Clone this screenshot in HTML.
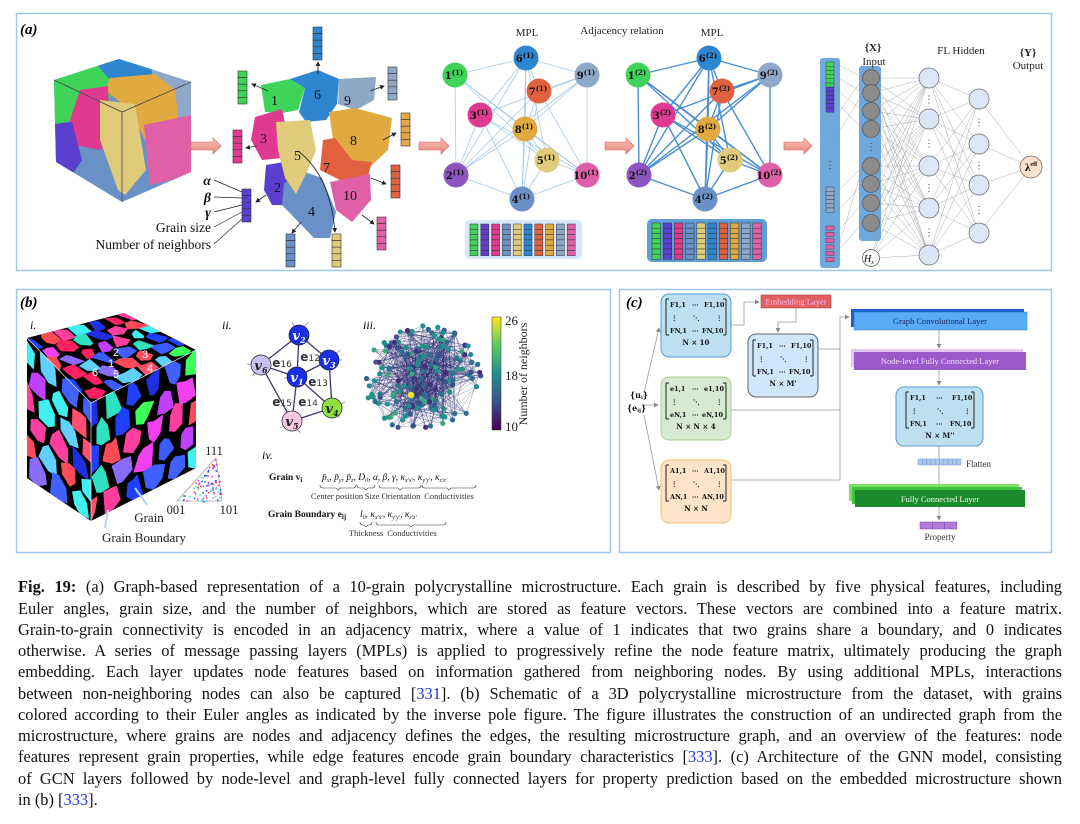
<!DOCTYPE html>
<html><head><meta charset="utf-8">
<style>
html,body{margin:0;padding:0;background:#fff;}
#wrap{position:relative;width:1080px;height:824px;overflow:hidden;font-family:"Liberation Serif",serif;}
svg{position:absolute;left:0;top:0;}
.cap{position:absolute;left:18px;width:1044px;height:21.25px;line-height:21.25px;font-size:16.4px;color:#111;text-align:justify;text-align-last:justify;white-space:nowrap;}
.cap.last{text-align-last:left;}
.cap .r{color:#2233dd;}
</style></head><body><div id="wrap">
<svg id="S" width="1080" height="824" viewBox="0 0 1080 824" font-family="Liberation Serif, serif">
<defs>
<linearGradient id="arr" x1="0" y1="0" x2="0" y2="1"><stop offset="0" stop-color="#f9c0b8"/><stop offset="1" stop-color="#e8857a"/></linearGradient>
<linearGradient id="vir" x1="0" y1="1" x2="0" y2="0"><stop offset="0" stop-color="#440154"/><stop offset="0.25" stop-color="#3b528b"/><stop offset="0.5" stop-color="#21908d"/><stop offset="0.75" stop-color="#5dc963"/><stop offset="1" stop-color="#fde725"/></linearGradient>
<clipPath id="cubeA"><polygon points="54,80 119,59 191,82 191,172 122,202 56,162"/></clipPath>
<clipPath id="fTop"><polygon points="27,338 124,313 196,350 91,403"/></clipPath>
<clipPath id="fLeft"><polygon points="27,338 91,403 91,521 27,478"/></clipPath>
<clipPath id="fRight"><polygon points="91,403 196,350 196,468 91,521"/></clipPath>
<marker id="ah" markerWidth="6" markerHeight="6" refX="5" refY="3" orient="auto"><path d="M0,0 L6,3 L0,6z" fill="#222"/></marker>
<marker id="ahg" markerWidth="6" markerHeight="6" refX="5" refY="3" orient="auto"><path d="M0,0 L6,3 L0,6z" fill="#888"/></marker>
</defs>
<rect x="16.5" y="13.5" width="1035" height="257" fill="none" stroke="#9cc8ef" stroke-width="1.5"/>
<rect x="16.5" y="289.5" width="594" height="263" fill="none" stroke="#9cc8ef" stroke-width="1.5"/>
<rect x="619.5" y="289.5" width="432" height="263" fill="none" stroke="#9cc8ef" stroke-width="1.5"/>
<text x="20" y="34" font-size="15" font-weight="bold" font-style="italic">(a)</text>
<text x="20" y="307" font-size="15" font-weight="bold" font-style="italic">(b)</text>
<text x="626" y="307" font-size="15" font-weight="bold" font-style="italic">(c)</text>

<g clip-path="url(#cubeA)">
<rect x="50" y="55" width="145" height="150" fill="#6a90c8"/>
<polygon points="54,60 111,60 112,95 100,110 72,120 54,126" fill="#3fd35a"/>
<polygon points="92,59 160,59 154,75 110,80" fill="#2e86d0"/>
<polygon points="150,65 195,70 195,128 165,118" fill="#8fa8c8"/>
<polygon points="110,78 155,74 175,90 182,150 150,150 130,110 105,90" fill="#e0aa40"/>
<polygon points="80,90 108,86 110,140 100,150 75,145 70,120" fill="#e03a90"/>
<polygon points="54,124 72,122 82,160 74,172 54,170" fill="#5b3fcf"/>
<polygon points="144,125 191,115 191,175 150,185" fill="#e060a8"/>
<polygon points="100,100 135,104 146,170 125,195 118,190 100,140" fill="#e0cb7a"/>
</g>
<g fill="none" stroke="#444" stroke-width="0.8"><polyline points="54,80 122,112 191,82"/><line x1="122" y1="112" x2="122" y2="202"/></g>

<g fill="url(#arr)" stroke="#d06a60" stroke-width="0.6">
<polygon points="191,142 213,142 213,138 221,146 213,154 213,150 191,150"/>
<polygon points="419,142 441,142 441,138 449,146 441,154 441,150 419,150"/>
<polygon points="605,142 626,142 626,138 634,146 626,154 626,150 605,150"/>
<polygon points="784,142 804,142 804,138 812,146 804,154 804,150 784,150"/>
</g>

<g stroke="none">
<polygon points="261,85 290,79 305,88 298,110 282,113 265,112" fill="#3fd35a"/>
<polygon points="290,79 318,70 339,79 337,104 326,120 306,122 299,112 305,88" fill="#2e86d0"/>
<polygon points="339,79 376,77 374,100 356,110 338,104" fill="#8fa8c8"/>
<polygon points="255,117 282,109 286,128 282,158 262,160 251,140" fill="#e03a90"/>
<polygon points="329,112 355,108 392,118 388,150 372,165 352,160 333,140" fill="#e0aa40"/>
<polygon points="323,140 335,138 352,160 372,162 368,176 340,180 320,170" fill="#e06040"/>
<polygon points="266,165 284,162 294,185 288,205 272,205 264,190" fill="#5b3fcf"/>
<polygon points="284,183 305,172 322,178 336,212 330,238 314,238 282,205" fill="#6a90c8"/>
<polygon points="340,180 370,174 371,200 352,222 336,210 330,182" fill="#e060a8"/>
<polygon points="276,122 310,120 316,150 308,170 296,194 285,178 278,150" fill="#e0cb7a"/>
</g>
<g font-size="14" fill="#111">
<text x="271" y="105">1</text><text x="314" y="99">6</text><text x="344" y="105">9</text><text x="260" y="143">3</text><text x="294" y="160">5</text><text x="350" y="145">8</text><text x="323" y="172">7</text><text x="274" y="192">2</text><text x="308" y="216">4</text><text x="343" y="200">10</text>
</g>
<path d="M298,151 Q330,175 335,232" fill="none" stroke="#222" stroke-width="0.8" marker-end="url(#ah)"/>
<g id="fbars"></g>
<g stroke="#222" stroke-width="0.8" marker-end="url(#ah)">
<line x1="318" y1="74" x2="318" y2="62"/><line x1="268" y1="91" x2="252" y2="84"/><line x1="370" y1="91" x2="384" y2="86"/>
<line x1="257" y1="146" x2="246" y2="148"/><line x1="383" y1="140" x2="396" y2="133"/><line x1="371" y1="178" x2="386" y2="184"/>
<line x1="266" y1="195" x2="256" y2="202"/><line x1="362" y1="215" x2="374" y2="224"/><line x1="301" y1="222" x2="292" y2="233"/>
</g>
<g stroke="#222" stroke-width="0.7">
<line x1="242" y1="192" x2="214" y2="180"/><line x1="242" y1="198" x2="214" y2="197"/><line x1="242" y1="205" x2="214" y2="212"/><line x1="242" y1="212" x2="214" y2="227"/><line x1="242" y1="219" x2="214" y2="244"/>
</g>
<g font-size="14" fill="#111" text-anchor="end">
<text x="211" y="185" font-weight="bold" font-style="italic">α</text>
<text x="211" y="202" font-weight="bold" font-style="italic">β</text>
<text x="211" y="217" font-weight="bold" font-style="italic">γ</text>
<text x="211" y="232" font-size="13.5">Grain size</text>
<text x="211" y="249" font-size="13.5">Number of neighbors</text>
</g>

<g font-size="11" fill="#222" text-anchor="middle"><text x="527" y="36">MPL</text><text x="622" y="34">Adjacency relation</text><text x="712" y="36">MPL</text></g>
<g id="graphs"></g>
<g id="mats"></g>

<rect x="820" y="58" width="20" height="210" rx="3" fill="#6fa8dc"/>
<rect x="859" y="66" width="22" height="175" rx="3" fill="#6fa8dc"/>
<g id="nn"></g>
<g font-size="11" fill="#222" text-anchor="middle">
<text x="873" y="51" font-weight="bold">{X}</text><text x="874" y="65">Input</text>
<text x="961" y="54">FL Hidden</text>
<text x="1028" y="56" font-weight="bold">{Y}</text><text x="1028" y="69">Output</text>
</g>

<g id="bcube"></g>
<g fill="#fff" font-size="11" font-family="Liberation Sans, sans-serif">
<text x="113" y="356">2</text><text x="142" y="358">3</text><text x="108" y="367">1</text><text x="147" y="372">4</text><text x="92" y="376">6</text><text x="113" y="378">5</text>
</g>
<polyline points="27,338 91,403 196,350" fill="none" stroke="#fff" stroke-width="0.8" opacity="0.8"/>
<line x1="91" y1="403" x2="91" y2="521" stroke="#fff" stroke-width="0.8" opacity="0.8"/>
<text x="30" y="329" font-size="12" font-style="italic">i.</text>
<polygon points="177,501 222,501 216,458" fill="#fff" stroke="#888" stroke-width="0.6"/>
<g id="ipf"></g>
<g font-size="12.5" fill="#222" text-anchor="middle"><text x="214" y="455">111</text><text x="176" y="514">001</text><text x="229" y="514">101</text>
<text x="149" y="522" font-size="13">Grain</text><text x="144" y="542" font-size="13">Grain Boundary</text></g>
<g stroke="#b8d4f0" stroke-width="2" fill="none"><line x1="135" y1="488" x2="147" y2="505"/><line x1="108" y1="510" x2="105" y2="528"/></g>

<text x="222" y="329" font-size="12" font-style="italic">ii.</text>
<g stroke="#3a3a6a" stroke-width="1.3">
<line x1="299" y1="335" x2="329" y2="360"/><line x1="299" y1="335" x2="261" y2="365"/><line x1="299" y1="335" x2="297" y2="377"/>
<line x1="261" y1="365" x2="297" y2="377"/><line x1="329" y1="360" x2="297" y2="377"/><line x1="297" y1="377" x2="332" y2="408"/>
<line x1="297" y1="377" x2="292" y2="421"/><line x1="329" y1="360" x2="332" y2="408"/><line x1="332" y1="408" x2="292" y2="421"/><line x1="261" y1="365" x2="292" y2="421"/>
</g>
<g stroke="#9aa0c0" stroke-width="1">
<line x1="299" y1="335" x2="292" y2="322"/><line x1="299" y1="335" x2="308" y2="322"/><line x1="329" y1="360" x2="342" y2="360"/><line x1="329" y1="360" x2="340" y2="350"/>
<line x1="261" y1="365" x2="247" y2="364"/><line x1="261" y1="365" x2="252" y2="376"/><line x1="332" y1="408" x2="345" y2="402"/><line x1="332" y1="408" x2="340" y2="418"/>
<line x1="292" y1="421" x2="280" y2="428"/><line x1="292" y1="421" x2="300" y2="433"/><line x1="297" y1="377" x2="284" y2="378"/>
</g>
<g stroke="#222" stroke-width="0.7" font-family="DejaVu Serif, serif" font-weight="bold" font-style="italic" font-size="13" text-anchor="middle">
<circle cx="299" cy="335" r="10" fill="#1a2ee8"/><text x="299" y="340" fill="#fff" stroke="none">v<tspan font-size="8" dy="3">2</tspan></text>
<circle cx="329" cy="360" r="10" fill="#1a2ee8"/><text x="329" y="365" fill="#fff" stroke="none">v<tspan font-size="8" dy="3">3</tspan></text>
<circle cx="297" cy="377" r="10" fill="#1a2ee8"/><text x="297" y="382" fill="#fff" stroke="none">v<tspan font-size="8" dy="3">1</tspan></text>
<circle cx="261" cy="365" r="10" fill="#c8c0f0"/><text x="261" y="370" fill="#222" stroke="none">v<tspan font-size="8" dy="3">6</tspan></text>
<circle cx="332" cy="408" r="10" fill="#90e040"/><text x="332" y="413" fill="#222" stroke="none">v<tspan font-size="8" dy="3">4</tspan></text>
<circle cx="292" cy="421" r="10" fill="#f8c8e0"/><text x="292" y="426" fill="#222" stroke="none">v<tspan font-size="8" dy="3">5</tspan></text>
</g>
<g font-family="DejaVu Sans, sans-serif" font-weight="bold" font-size="12" fill="#333" text-anchor="middle">
<text x="282" y="367">e<tspan font-size="9" font-weight="normal">16</tspan></text>
<text x="310" y="361">e<tspan font-size="9" font-weight="normal">12</tspan></text>
<text x="318" y="386">e<tspan font-size="9" font-weight="normal">13</tspan></text>
<text x="308" y="406">e<tspan font-size="9" font-weight="normal">14</tspan></text>
<text x="282" y="406">e<tspan font-size="9" font-weight="normal">15</tspan></text>
</g>

<text x="363" y="329" font-size="12" font-style="italic">iii.</text>
<g id="g3"></g>
<rect x="492" y="317" width="9" height="113" fill="url(#vir)" stroke="#333" stroke-width="0.5"/>
<g font-size="13" fill="#222"><text x="505" y="325">26</text><text x="505" y="380">18</text><text x="505" y="431">10</text>
<text transform="translate(527,374) rotate(-90)" text-anchor="middle" font-size="12">Number of neighbors</text></g>

<text x="262" y="459" font-size="12" font-style="italic">iv.</text>
<g font-size="9.5" fill="#111">
<text x="269" y="480" font-weight="bold">Grain v<tspan font-size="7" dy="2">i</tspan></text>
<text x="322" y="480" font-style="italic">p̄<tspan font-size="6" dy="2">x</tspan><tspan dy="-2">, p̄</tspan><tspan font-size="6" dy="2">y</tspan><tspan dy="-2">, p̄</tspan><tspan font-size="6" dy="2">z</tspan><tspan dy="-2">, D</tspan><tspan font-size="6" dy="2">0</tspan><tspan dy="-2">, α, β, γ, κ</tspan><tspan font-size="6" dy="2">x'x'</tspan><tspan dy="-2">, κ</tspan><tspan font-size="6" dy="2">y'y'</tspan><tspan dy="-2">, κ</tspan><tspan font-size="6" dy="2">z'z'</tspan></text>
<text x="268" y="517" font-weight="bold">Grain Boundary e<tspan font-size="7" dy="2">ij</tspan></text>
<text x="360" y="517" font-style="italic">l<tspan font-size="6" dy="2">0</tspan><tspan dy="-2">, κ</tspan><tspan font-size="6" dy="2">x'x'</tspan><tspan dy="-2">, κ</tspan><tspan font-size="6" dy="2">y'y'</tspan><tspan dy="-2">, κ</tspan><tspan font-size="6" dy="2">z'z'</tspan></text>
</g>
<g fill="none" stroke="#333" stroke-width="0.6">
<path d="M320,485 q0,3 3,3 h13 l2,2 l2,-2 h13 q3,0 3,-3"/><path d="M357,485 q0,3 3,3 h4 l2,2 l2,-2 h4 q3,0 3,-3"/>
<path d="M379,485 q0,3 3,3 h16 l2,2 l2,-2 h16 q3,0 3,-3"/><path d="M422,485 q0,3 3,3 h22 l2,2 l2,-2 h22 q3,0 3,-3"/>
<path d="M360,522 q0,3 3,3 h1 l2,2 l2,-2 h1 q3,0 3,-3"/><path d="M376,522 q0,3 3,3 h30 l2,2 l2,-2 h30 q3,0 3,-3"/>
</g>
<g font-size="8.5" fill="#333" text-anchor="middle"><text x="337" y="499">Center position</text><text x="372" y="499">Size</text><text x="401" y="499">Orientation</text><text x="449" y="499">Conductivities</text>
<text x="366" y="536">Thickness</text><text x="412" y="536">Conductivities</text></g>

<g stroke="#999" stroke-width="0.8" fill="none">
<polyline points="731,325 744,325 744,302 759,302" marker-end="url(#ahg)"/>
<polyline points="796,308 796,322 778,322 778,332" marker-end="url(#ahg)"/>
<polyline points="818,349 840,349"/><polyline points="731,410 840,410"/><polyline points="731,480 840,480"/>
<polyline points="840,480 840,317 849,317" marker-end="url(#ahg)"/>
<line x1="644" y1="393" x2="659" y2="328" marker-end="url(#ahg)"/><line x1="644" y1="405" x2="658" y2="405" marker-end="url(#ahg)"/><line x1="644" y1="415" x2="659" y2="490" marker-end="url(#ahg)"/>
<line x1="939" y1="329" x2="939" y2="348" marker-end="url(#ahg)"/><line x1="939" y1="370" x2="939" y2="385" marker-end="url(#ahg)"/>
<line x1="939" y1="446" x2="939" y2="488" marker-end="url(#ahg)"/><line x1="939" y1="506" x2="939" y2="520" marker-end="url(#ahg)"/>
</g>
<rect x="661" y="294" width="70" height="63" rx="8" fill="#bde0f0" stroke="#5a9bc8"/>
<rect x="748" y="334" width="70" height="63" rx="8" fill="#cfe6fb" stroke="#666"/>
<rect x="661" y="377" width="70" height="63" rx="8" fill="#d5ead0" stroke="#a8d090"/>
<rect x="661" y="460" width="70" height="63" rx="8" fill="#fde3c8" stroke="#f0c070"/>
<rect x="896" y="387" width="87" height="59" rx="8" fill="#bde0f0" stroke="#5a9bc8"/>
<g id="mtx" font-family="DejaVu Serif, serif" font-weight="bold" font-size="6.5" fill="#111"></g>
<g font-family="DejaVu Serif, serif" font-weight="bold" fill="#111" font-size="8">
<text x="630" y="398">{u<tspan font-size="5" dy="1">i</tspan><tspan dy="-1">}</tspan></text>
<text x="627" y="411">{e<tspan font-size="5" dy="1">ij</tspan><tspan dy="-1">}</tspan></text>
</g>
<rect x="761" y="295" width="70" height="13" fill="#e06060" stroke="#b04040" stroke-width="0.6"/>
<text x="796" y="304.5" font-size="8.5" fill="#fbe" text-anchor="middle">Embedding Layer</text>
<rect x="851" y="309" width="173" height="18" fill="#1a5fd0"/>
<rect x="854" y="312" width="173" height="18" fill="#5aabf5" stroke="#2a70d0" stroke-width="0.5"/>
<text x="940" y="324" font-size="8.5" fill="#1a2a60" text-anchor="middle">Graph Convolutional Layer</text>
<rect x="851" y="349" width="172" height="18" fill="#e0c8ee"/>
<rect x="854" y="352" width="172" height="18" fill="#9b59c9"/>
<text x="940" y="364" font-size="8.5" fill="#f0e0ff" text-anchor="middle">Node-level Fully Connected Layer</text>
<rect x="849" y="484" width="170" height="17" fill="#7ee060"/>
<rect x="852" y="487" width="170" height="17" fill="#40c040"/>
<rect x="855" y="490" width="170" height="17" fill="#1e8a2e"/>
<text x="940" y="502" font-size="8.5" fill="#e8ffe8" text-anchor="middle">Fully Connected Layer</text>
<g id="flat"></g>
<text x="966" y="467" font-size="9" fill="#333">Flatten</text>
<text x="940" y="540" font-size="9" fill="#333" text-anchor="middle">Property</text>
</svg>

<div class="cap" style="top:576.4px"><b>Fig. 19:</b> (a) Graph-based representation of a 10-grain polycrystalline microstructure. Each grain is described by five physical features, including</div>
<div class="cap" style="top:597.7px">Euler angles, grain size, and the number of neighbors, which are stored as feature vectors. These vectors are combined into a feature matrix.</div>
<div class="cap" style="top:618.9px">Grain-to-grain connectivity is encoded in an adjacency matrix, where a value of 1 indicates that two grains share a boundary, and 0 indicates</div>
<div class="cap" style="top:640.2px">otherwise. A series of message passing layers (MPLs) is applied to progressively refine the node feature matrix, ultimately producing the graph</div>
<div class="cap" style="top:661.4px">embedding. Each layer updates node features based on information gathered from neighboring nodes. By using additional MPLs, interactions</div>
<div class="cap" style="top:682.7px">between non-neighboring nodes can also be captured [<span class="r">331</span>]. (b) Schematic of a 3D polycrystalline microstructure from the dataset, with grains</div>
<div class="cap" style="top:703.9px">colored according to their Euler angles as indicated by the inverse pole figure. The figure illustrates the construction of an undirected graph from the</div>
<div class="cap" style="top:725.2px">microstructure, where grains are nodes and adjacency defines the edges, the resulting microstructure graph, and an overview of the features: node</div>
<div class="cap" style="top:746.4px">features represent grain properties, while edge features encode grain boundary characteristics [<span class="r">333</span>]. (c) Architecture of the GNN model, consisting</div>
<div class="cap" style="top:767.7px">of GCN layers followed by node-level and graph-level fully connected layers for property prediction based on the embedded microstructure shown</div>
<div class="cap last" style="top:788.9px">in (b) [<span class="r">333</span>].</div>
</div>
<script>
(function(){
var NS="http://www.w3.org/2000/svg";
function el(p,t,a,txt){var e=document.createElementNS(NS,t);for(var k in a)e.setAttribute(k,a[k]);if(txt!==undefined)e.textContent=txt;p.appendChild(e);return e;}
function g(id){return document.getElementById(id);}
var seed=7;function rnd(){seed=(seed*16807)%2147483647;return (seed-1)/2147483646;}
var C={g:"#3fd35a",b:"#2e86d0",l:"#8fa8c8",o:"#e0aa40",p:"#e03a90",k:"#e0cb7a",u:"#5b3fcf",s:"#6a90c8",h:"#e060a8",r:"#e06040"};
var fb=g("fbars");
[[313,27,C.b],[238,71,C.g],[388,67,C.l],[233,130,C.p],[401,113,C.o],[391,165,C.r],[242,189,C.u],[377,217,C.h],[286,234,C.s],[332,234,C.k]].forEach(function(b){
 for(var i=0;i<5;i++)el(fb,"rect",{x:b[0],y:b[1]+i*6.6,width:9,height:6.6,fill:b[2],stroke:"#333","stroke-width":0.6});});
var nodes={1:[455,75,C.g],6:[526,58,C.b],9:[587,75,C.l],7:[539,91,C.r],3:[480,115,C.p],8:[525,129,C.o],5:[547,160,C.k],2:[456,175,"#8e55c0"],10:[587,175,C.h],4:[522,199,C.s]};
var E=[[1,6],[1,8],[1,5],[1,2],[6,3],[6,8],[6,2],[6,5],[6,4],[6,7],[6,9],[9,7],[9,8],[9,10],[9,2],[7,8],[7,4],[7,10],[3,5],[3,4],[3,2],[3,10],[8,2],[8,4],[8,5],[8,10],[5,4],[5,10],[2,4],[4,10],[1,10],[3,9],[7,2]];
var G=g("graphs");
[[0,"#a8cbe8",0.8],[183,"#4a8fd0",1.4]].forEach(function(L,li){
 E.forEach(function(e){var a=nodes[e[0]],b=nodes[e[1]];el(G,"line",{x1:a[0]+L[0],y1:a[1],x2:b[0]+L[0],y2:b[1],stroke:L[1],"stroke-width":L[2]});});
 for(var k in nodes){var n=nodes[k];el(G,"circle",{cx:n[0]+L[0],cy:n[1],r:12.5,fill:n[2]});
  var t=el(G,"text",{x:n[0]+L[0]-1,y:n[1]+4,"font-size":10,"font-weight":"bold","text-anchor":"middle",fill:"#111","font-family":"DejaVu Serif, serif"},k);
  el(t,"tspan",{"font-size":7,dy:-4},"("+(li+1)+")");}
});
var M=g("mats");var cols=[C.g,C.u,C.p,C.s,C.k,C.b,C.r,C.o,C.l,C.h];
el(M,"rect",{x:465,y:220,width:117,height:39,rx:5,fill:"#d6e8f6"});
el(M,"rect",{x:647,y:219,width:120,height:43,rx:5,fill:"#5f9fd8"});
cols.forEach(function(c,i){for(var j=0;j<6;j++)el(M,"rect",{x:470+i*10.8,y:224+j*5.3,width:8,height:5.3,fill:c,stroke:"#333","stroke-width":0.5});
 for(var j=0;j<7;j++)el(M,"rect",{x:652+i*11.2,y:223+j*5.2,width:8.5,height:5.2,fill:c,stroke:"#333","stroke-width":0.5});});
var N=g("nn");
var bar=[];for(var i=0;i<6;i++)bar.push([62+i*4.2,C.g]);for(var i=0;i<6;i++)bar.push([87+i*4.2,C.u]);
for(var i=0;i<6;i++)bar.push([187+i*4.2,C.l]);for(var i=0;i<6;i++)bar.push([226+i*6.3,C.h]);
var inp=[78,93,111,129,166,184,203,223],h1=[78,119,166,208,255],h2=[99,144,185,233];
var ln={stroke:"#999","stroke-width":0.4};
[62,75,88,100,120,140].forEach(function(y,i){el(N,"line",Object.assign({x1:834,y1:y,x2:863,y2:inp[i%4]},ln));});
[195,215,235,255,262].forEach(function(y,i){el(N,"line",Object.assign({x1:834,y1:y,x2:863,y2:inp[4+i%4]},ln));});
inp.concat([258]).forEach(function(a){h1.forEach(function(b){el(N,"line",Object.assign({x1:871,y1:a,x2:929,y2:b},ln));});});
h1.forEach(function(a){h2.forEach(function(b){el(N,"line",Object.assign({x1:929,y1:a,x2:979,y2:b},ln));});});
h2.forEach(function(a){el(N,"line",Object.assign({x1:979,y1:a,x2:1031,y2:167},ln));});
bar.forEach(function(b){el(N,"rect",{x:826,y:b[0],width:8,height:4.2,fill:b[1],stroke:"#333","stroke-width":0.4});});
el(N,"text",{x:830,y:168,"font-size":10,"text-anchor":"middle",fill:"#333"},"⋮");
inp.forEach(function(y){el(N,"circle",{cx:871,cy:y,r:8.5,fill:"#8c8c8c",stroke:"#555","stroke-width":0.7});});
el(N,"text",{x:871,y:150,"font-size":10,"text-anchor":"middle",fill:"#333"},"⋮");
el(N,"circle",{cx:871,cy:258,r:8.5,fill:"#fff",stroke:"#555","stroke-width":0.7});
var ht=el(N,"text",{x:869,y:262,"font-size":10,"font-style":"italic","text-anchor":"middle"},"H");el(ht,"tspan",{"font-size":6,dy:2},"x");
h1.forEach(function(y,i){el(N,"circle",{cx:929,cy:y,r:10,fill:"#dce6f5",stroke:"#666","stroke-width":0.7});if(i<4)el(N,"text",{x:929,y:(y+h1[i+1])/2+4,"font-size":10,"text-anchor":"middle",fill:"#333"},"⋮");});
h2.forEach(function(y,i){el(N,"circle",{cx:979,cy:y,r:10,fill:"#dce6f5",stroke:"#666","stroke-width":0.7});if(i<3)el(N,"text",{x:979,y:(y+h2[i+1])/2+4,"font-size":10,"text-anchor":"middle",fill:"#333"},"⋮");});
el(N,"circle",{cx:1031,cy:167,r:11,fill:"#fbe0cc",stroke:"#666","stroke-width":0.7});
var lt=el(N,"text",{x:1025,y:171,"font-size":11,"font-weight":"bold"},"λ");el(lt,"tspan",{"font-size":6,dy:-5},"eff");
var B=g("bcube");var pal=["#ff3ea0","#3cff5a","#3a5cff","#ff4a5a","#40f0f0","#f040f0","#8a6cff","#2040ff","#ff5070","#60d0ff","#c040ff","#30e0c0","#2030e0","#ff2060","#4060ff"];
function face(cl,P,nu,nv){var gg=el(B,"g",{"clip-path":"url(#"+cl+")"});
 el(gg,"rect",{x:20,y:305,width:185,height:225,fill:"#000"});
 function map(u,v){var x=(1-u)*(1-v)*P[0][0]+u*(1-v)*P[1][0]+u*v*P[2][0]+(1-u)*v*P[3][0];var y=(1-u)*(1-v)*P[0][1]+u*(1-v)*P[1][1]+u*v*P[2][1]+(1-u)*v*P[3][1];return x.toFixed(1)+","+y.toFixed(1);}
 for(var i=-1;i<=nu;i++)for(var j=0;j<nv;j++){var o=(j%2)*0.5;var u0=(i+o-0.5+0.14)/nu,u1=(i+o+0.5-0.14)/nu,v0=(j+0.13)/nv,v1=(j+0.87)/nv;
  var jx=function(){return (rnd()-0.5)*0.07;};
  var pts=[map(u0+jx(),v0+jx()),map((u0+u1)/2,v0-0.03+jx()),map(u1+jx(),v0+jx()),map(u1+jx(),v1+jx()),map((u0+u1)/2,v1+0.03),map(u0+jx(),v1+jx())].join(" ");
  el(gg,"polygon",{points:pts,fill:pal[Math.floor(rnd()*pal.length)]});}}
face("fTop",[[27,338],[124,313],[196,350],[91,403]],6,6);
face("fLeft",[[27,338],[91,403],[91,521],[27,478]],3,6);
face("fRight",[[91,403],[196,350],[196,468],[91,521]],5,5);
var I=g("ipf");for(var i=0;i<90;i++){var a=rnd(),b=rnd();if(a+b>1){a=1-a;b=1-b;}var x=177+a*45+b*39,y=501-b*43;el(I,"rect",{x:x,y:y,width:1.6,height:1.6,fill:pal[i%pal.length]});}
var G3=g("g3");var pts=[];for(var i=0;i<160;i++){var r=Math.sqrt(rnd())*56,t=rnd()*6.283;pts.push([422+r*Math.cos(t)*1.05,378+r*Math.sin(t)*0.98]);}
for(var i=0;i<650;i++){var a=pts[Math.floor(rnd()*pts.length)],b=pts[Math.floor(rnd()*pts.length)];el(G3,"line",{x1:a[0],y1:a[1],x2:b[0],y2:b[1],stroke:"#2a2a70","stroke-width":0.5,opacity:0.5});}
var vc=["#3b528b","#2c728e","#21908d","#2c728e","#21908d","#31688e","#472d7b","#3ba87f","#21908d"];
pts.forEach(function(p,i){el(G3,"circle",{cx:p[0],cy:p[1],r:2.6,fill:vc[i%vc.length]});});
el(G3,"circle",{cx:411,cy:395,r:3.2,fill:"#fde725"});
var MT=g("mtx");
function mat(x,y,w,h,a,lab){
 el(MT,"path",{d:"M"+x+","+y+" v"+h+" M"+(x+w)+","+y+" v"+h+" M"+x+","+y+" h3 M"+x+","+(y+h)+" h3 M"+(x+w)+","+y+" h-3 M"+(x+w)+","+(y+h)+" h-3",stroke:"#222","stroke-width":1,fill:"none"});
 el(MT,"text",{x:x+4,y:y+8},a+"1,1");el(MT,"text",{x:x+w/2-4,y:y+8},"⋯");el(MT,"text",{x:x+w-22,y:y+8},a+"1,10");
 el(MT,"text",{x:x+5,y:y+h/2+3},"⋮");el(MT,"text",{x:x+w/2-3,y:y+h/2+3},"⋱");el(MT,"text",{x:x+w-10,y:y+h/2+3},"⋮");
 el(MT,"text",{x:x+4,y:y+h-2},a+"N,1");el(MT,"text",{x:x+w/2-4,y:y+h-2},"⋯");el(MT,"text",{x:x+w-24,y:y+h-2},a+"N,10");
 el(MT,"text",{x:x+w/2,y:y+h+10,"text-anchor":"middle","font-size":7},lab);}
mat(666,299,60,36,"F","N × 10");mat(753,340,60,36,"F","N × M'");mat(666,383,60,36,"e","N × N × 4");mat(666,465,60,36,"A","N × N");mat(906,392,68,36,"F","N × M''");
var F=g("flat");for(var i=0;i<10;i++)el(F,"rect",{x:918+i*4.3,y:459,width:4.3,height:6,fill:"#a8c8ec",stroke:"#6a90c8","stroke-width":0.4});
for(var i=0;i<3;i++)el(F,"rect",{x:920+i*12.3,y:522,width:12.3,height:7,fill:"#b07ad8",stroke:"#7a40a8","stroke-width":0.5});
})();
</script>
</body></html>
